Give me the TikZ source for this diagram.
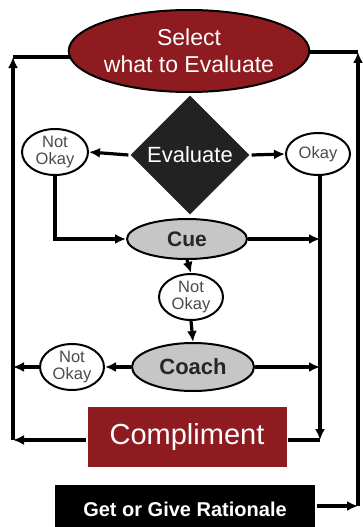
\documentclass[tikz,border=0pt]{standalone}
\usepackage{fontspec}
\setmainfont{Liberation Sans}
\usetikzlibrary{shapes.geometric,arrows.meta}
\definecolor{sred}{HTML}{8E1B1F}
\definecolor{sgray}{HTML}{C6C6C6}
\definecolor{sdark}{HTML}{222222}
\definecolor{stext}{HTML}{4A4A4A}
\begin{document}
\begin{tikzpicture}[x=1pt,y=-1pt,
  line width=3.2pt,
  arr/.style={-{Latex[length=11pt,width=10pt]}},
  small/.style={ellipse,draw=black,line width=2pt,fill=white,inner sep=0pt,align=center,text=stext,font=\fontsize{16.5}{17.5}\selectfont},
  grayell/.style={ellipse,draw=black,line width=2pt,fill=sgray,inner sep=0pt,text=black!85},
  redbox/.style={rectangle,fill=sred,text=white,inner sep=0pt}]
\useasboundingbox (0,0) rectangle (362,527);
\begin{scope}
\clip (0,0) rectangle (362,527);
\node[ellipse,draw=black,line width=2pt,fill=sred,text=white,minimum width=222,minimum height=82,inner sep=0pt,align=center,font=\fontsize{23}{27}\selectfont] (sel) at (189,51) {Select\\what to Evaluate};
\node[diamond,fill=sdark,text=white,minimum width=120,minimum height=120,inner sep=0pt,font=\fontsize{22}{22}\selectfont] (eval) at (190,155) {Evaluate};
\node[small,minimum width=66,minimum height=46] (no1) at (55,152) {Not\\Okay};
\node[small,minimum width=64,minimum height=42] (ok) at (318,154) {Okay};
\node[grayell,minimum width=120,minimum height=40,font=\fontsize{21}{21}\selectfont\bfseries] (cue) at (187,239) {Cue};
\node[small,minimum width=64,minimum height=46] (no2) at (191,297) {Not\\Okay};
\node[grayell,minimum width=122,minimum height=48,font=\fontsize{22}{22}\selectfont\bfseries] (coach) at (193,367) {Coach};
\node[small,minimum width=64,minimum height=46] (no3) at (72,367) {Not\\Okay};
\node[redbox,minimum width=199,minimum height=60,font=\fontsize{29}{29}\selectfont] (comp) at (187,437) {Compliment};
\node[rectangle,fill=black,text=white,minimum width=260,minimum height=48,inner sep=0pt,font=\fontsize{20}{20}\selectfont\bfseries] (rat) at (185,509) {Get or Give Rationale};
\end{scope}
\coordinate (L1) at (13,440);
\coordinate (L2) at (13,57);
\coordinate (R1) at (358,506);
\coordinate (R2) at (358,52);
\coordinate (R4) at (320,440);
\coordinate (C1) at (320,239);
\coordinate (C2) at (320,367);
% left loop
\draw[arr] (comp.west |- L1) -- (L1);
\draw[arr] (L1) -- (L2);
\draw (L2) -- ([xshift=3pt]L2 -| sel.west);
% right loop
\draw[arr] (rat.east |- R1) -- (R1);
\draw[arr] (R1) -- (R2);
\draw (R2) -- (sel.east |- R2);
% evaluate branches
\draw[arr] (eval.west) -- (no1.east);
\draw[arr] (eval.east) -- (ok.west);
\draw[arr] (no1.south) |- (cue.west);
\draw[arr] (cue.east) -- (C1);
\draw[arr] (ok.south -| R4) -- (R4);
\draw (R4) -- (comp.east |- R4);
\draw[arr] (cue.south) -- (no2.north);
\draw[arr] (no2.south) -- (coach.north);
\draw[arr] (coach.east) -- (C2);
\draw[arr] (coach.west) -- (no3.east);
\draw[arr] (no3.west) -- (no3.west -| L1);
\end{tikzpicture}
\end{document}
